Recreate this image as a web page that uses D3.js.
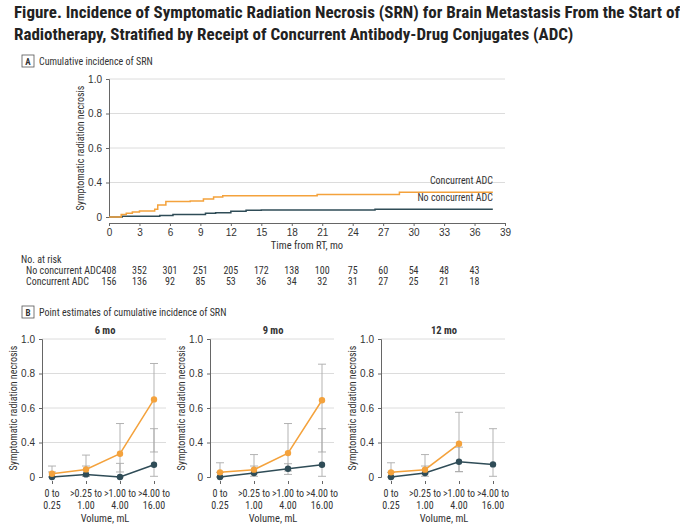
<!DOCTYPE html>
<html><head><meta charset="utf-8">
<script src="https://cdn.jsdelivr.net/npm/d3@7"></script>
<style>body{margin:0;background:#fff;font-family:"Liberation Sans Narrow","Roboto Condensed",Roboto,sans-serif}</style>
</head><body><div id="chart"></div>
<script>
// panel A step curves [month, incidence]
var adcCurve = [[0,0],[1.2,0.03],[1.7,0.043],[2.3,0.058],[3,0.07],[4.5,0.09],[4.8,0.14],[5.6,0.18],[8,0.186],[9.3,0.21],[10.3,0.233],[11.2,0.245],[20.5,0.26],[28.6,0.287],[37.8,0.287]];
var noAdcCurve = [[0,0],[1.3,0.008],[5,0.016],[6.3,0.03],[9.5,0.043],[10.5,0.05],[12,0.066],[13.5,0.078],[15,0.082],[26.2,0.09],[37.8,0.09]];
var riskTimes = [0,3,6,9,12,15,18,21,24,27,30,33,36];
var riskNoAdc = [408,352,301,251,205,172,138,100,75,60,54,48,43];
var riskAdc = [156,136,92,85,53,36,34,32,31,27,25,21,18];

// panel B
var volumeCats = ["0 to|0.25",">0.25 to|1.00",">1.00 to|4.00",">4.00 to|16.00"];
var panelTitles = ["6 mo","9 mo","12 mo"];
var adcEst = [[0.038,0.088,0.27,0.65],[0.054,0.085,0.277,0.645],[0.054,0.085,0.385]];
var adcLo  = [[0,0.01,0.058,0.29],[0,0.038,0.07,0.29],[0,0.038,0.062]];
var adcHi  = [[0.127,0.254,0.51,0.858],[0.165,0.26,0.51,0.854],[0.165,0.26,0.575]];
var noEst  = [[0,0.03,0,0.142],[0,0.046,0.096,0.142],[0,0.046,0.177,0.146]];
var noLo   = [[0,0.008,0,0.008],[0,0.008,0.03,0.008],[0,0.008,0.062,0.008]];
var noHi   = [[0.058,0.127,0.158,0.48],[0.054,0.127,0.154,0.48],[0.054,0.127,0.346,0.48]];
var yTicks = [0,0.4,0.6,0.8,1.0];

var orange = "#f4a23c", teal = "#2f4c57", grid = "#dcdcdc", txt = "#333";
var fs = 10;

var svg = d3.select("#chart").append("svg").attr("width",680).attr("height",528);

// title
svg.append("text").attr("x",14).attr("y",18).attr("font-size",17).attr("font-weight","bold").attr("fill","#222")
  .text("Figure.  Incidence of Symptomatic Radiation Necrosis (SRN) for Brain Metastasis From the Start of");
svg.append("text").attr("x",14).attr("y",40).attr("font-size",17).attr("font-weight","bold").attr("fill","#222")
  .text("Radiotherapy, Stratified by Receipt of Concurrent Antibody-Drug Conjugates (ADC)");

function panelLabel(y, letter, label){
  svg.append("rect").attr("x",22).attr("y",y-10).attr("width",12).attr("height",12).attr("fill","none").attr("stroke","#555").attr("stroke-width",0.8);
  svg.append("text").attr("x",28).attr("y",y).attr("text-anchor","middle").attr("font-size",9).attr("font-weight","bold").attr("fill",txt).text(letter);
  svg.append("text").attr("x",39).attr("y",y).attr("font-size",fs).attr("fill",txt).text(label);
}
panelLabel(65,"A","Cumulative incidence of SRN");
panelLabel(316,"B","Point estimates of cumulative incidence of SRN");

// broken y scale: 0-0.4 spans one step like 0.4-0.6
function yScale(top, bottom){
  var step = (bottom-top)/4;
  return d3.scaleLinear().domain([0,0.4,1]).range([bottom,bottom-step,top]);
}
function yAxis(g, y, x0, x1){
  g.selectAll("line.grid").data(yTicks.slice(1)).join("line")
    .attr("x1",x0).attr("x2",x1).attr("y1",d=>y(d)).attr("y2",d=>y(d)).attr("stroke",grid);
  var ax = g.append("g").attr("transform","translate("+x0+",0)")
    .call(d3.axisLeft(y).tickValues(yTicks).tickSize(3).tickPadding(4).tickFormat(d=>d===0?"0":d3.format(".1f")(d)));
  ax.select(".domain").attr("stroke","#666");
  ax.selectAll("line").attr("stroke","#666");
  ax.selectAll("text").attr("font-size",fs).attr("fill",txt).attr("font-family","inherit");
}

// ---- panel A
var xA = d3.scaleLinear().domain([0,39]).range([109,505]);
var yA = yScale(79,217);
var gA = svg.append("g");
yAxis(gA, yA, 109, 505);
var axA = gA.append("g").attr("transform","translate(0,223)")
  .call(d3.axisBottom(xA).tickValues(d3.range(0,40,3)).tickSize(3));
axA.select(".domain").attr("stroke","#666");
axA.selectAll("line").attr("stroke","#666");
axA.selectAll("text").attr("font-size",fs).attr("fill",txt).attr("font-family","inherit");
gA.append("text").attr("x",xA(19.5)).attr("y",249).attr("text-anchor","middle").attr("font-size",fs+0.5).attr("fill",txt).text("Time from RT, mo");
gA.append("text").attr("transform","translate(84,148) rotate(-90)").attr("text-anchor","middle").attr("font-size",fs).attr("fill",txt).text("Symptomatic radiation necrosis");

var stepLine = d3.line().x(d=>xA(d[0])).y(d=>yA(d[1])).curve(d3.curveStepAfter);
gA.append("path").datum(noAdcCurve).attr("d",stepLine).attr("fill","none").attr("stroke",teal).attr("stroke-width",1.5);
gA.append("path").datum(adcCurve).attr("d",stepLine).attr("fill","none").attr("stroke",orange).attr("stroke-width",1.5);
gA.append("text").attr("x",xA(37.8)).attr("y",yA(0.287)-8).attr("text-anchor","end").attr("font-size",fs).attr("fill",txt).text("Concurrent ADC");
gA.append("text").attr("x",xA(37.8)).attr("y",yA(0.09)-8).attr("text-anchor","end").attr("font-size",fs).attr("fill",txt).text("No concurrent ADC");

// risk table
svg.append("text").attr("x",21).attr("y",263).attr("font-size",fs).attr("fill",txt).text("No. at risk");
[["No concurrent ADC",riskNoAdc,274],["Concurrent ADC",riskAdc,285]].forEach(function(r){
  svg.append("text").attr("x",26).attr("y",r[2]).attr("font-size",fs).attr("fill",txt).text(r[0]);
  svg.selectAll(null).data(r[1]).join("text").attr("x",(d,i)=>xA(riskTimes[i])).attr("y",r[2])
    .attr("text-anchor","middle").attr("font-size",fs).attr("fill",txt).text(d=>d);
});

// ---- panel B
var axisXs = [42,210,381];
var yB = yScale(339,477);
panelTitles.forEach(function(title,p){
  var ax0 = axisXs[p];
  var x = d3.scalePoint().domain(d3.range(4)).range([ax0+10,ax0+112]);
  var g = svg.append("g");
  yAxis(g, yB, ax0, ax0+124);
  g.append("text").attr("x",ax0+63).attr("y",334).attr("text-anchor","middle").attr("font-size",fs+0.5).attr("font-weight","bold").attr("fill",txt).text(title);
  var xa = g.append("g").attr("transform","translate(0,481)").call(d3.axisBottom(x).tickSize(3).tickFormat(""));
  xa.select(".domain").remove();
  xa.selectAll("line").attr("stroke","#666");
  volumeCats.forEach(function(c,i){
    var parts = c.split("|");
    g.append("text").attr("x",x(i)).attr("y",497).attr("text-anchor","middle").attr("font-size",fs).attr("fill",txt).text(parts[0]);
    g.append("text").attr("x",x(i)).attr("y",509).attr("text-anchor","middle").attr("font-size",fs).attr("fill",txt).text(parts[1]);
  });
  g.append("text").attr("x",ax0+63).attr("y",522).attr("text-anchor","middle").attr("font-size",fs+0.5).attr("fill",txt).text("Volume, mL");
  g.append("text").attr("transform","translate("+(ax0-25)+",408) rotate(-90)").attr("text-anchor","middle").attr("font-size",fs).attr("fill",txt).text("Symptomatic radiation necrosis");

  [[noEst[p],noLo[p],noHi[p],teal],[adcEst[p],adcLo[p],adcHi[p],orange]].forEach(function(s){
    var pts = s[0].map((v,i)=>({i:i,v:v,lo:s[1][i],hi:s[2][i]}));
    var eb = g.append("g").attr("stroke","#aaa").attr("stroke-width",0.9);
    eb.selectAll("line.v").data(pts).join("line").attr("x1",d=>x(d.i)).attr("x2",d=>x(d.i)).attr("y1",d=>yB(d.lo)).attr("y2",d=>yB(d.hi));
    eb.selectAll("line.t").data(pts).join("line").attr("x1",d=>x(d.i)-4).attr("x2",d=>x(d.i)+4).attr("y1",d=>yB(d.hi)).attr("y2",d=>yB(d.hi));
    eb.selectAll("line.b").data(pts).join("line").attr("x1",d=>x(d.i)-4).attr("x2",d=>x(d.i)+4).attr("y1",d=>yB(d.lo)).attr("y2",d=>yB(d.lo));
  });
  [[noEst[p],teal],[adcEst[p],orange]].forEach(function(s){
    g.append("path").datum(s[0]).attr("d",d3.line().x((d,i)=>x(i)).y(d=>yB(d))).attr("fill","none").attr("stroke",s[1]).attr("stroke-width",1.5);
    g.selectAll(null).data(s[0]).join("circle").attr("cx",(d,i)=>x(i)).attr("cy",d=>yB(d)).attr("r",3.2).attr("fill",s[1]);
  });
});
</script></body></html>
